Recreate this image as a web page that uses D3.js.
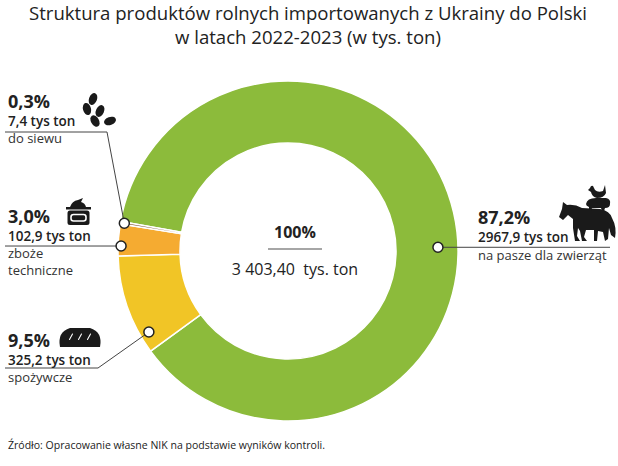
<!DOCTYPE html>
<html>
<head>
<meta charset="utf-8">
<script src="https://cdn.jsdelivr.net/npm/d3@7"></script>
<style>
  body { margin: 0; background: #fff; }
  svg { display: block; font-family: "Open Sans", sans-serif; }
</style>
</head>
<body>
<script>
// data
const categories = ["na pasze dla zwierząt", "spożywcze", "zboże techniczne", "do siewu"];
const subLabels = [["na pasze dla zwierząt"], ["spożywcze"], ["zboże", "techniczne"], ["do siewu"]];
const values = [2967.9, 325.2, 102.9, 7.4];
const percentLabels = ["87,2%", "9,5%", "3,0%", "0,3%"];
const amountLabels = ["2967,9 tys ton", "325,2 tys ton", "102,9 tys ton", "7,4 tys ton"];
const colors = ["#8cbb3b", "#f1c526", "#f5ab31", "#7a5232"];
const totalLabel = "3 403,40  tys. ton";
const titleLines = ["Struktura produktów rolnych importowanych z Ukrainy do Polski", "w latach 2022-2023 (w tys. ton)"];
const sourceText = "Źródło: Opracowanie własne NIK na podstawie wyników kontroli.";

const width = 618, height = 466;
const cx = 288, cy = 251, outerR = 170, innerR = 108;

// where the markers sit in each slice (fraction of slice angle, radius)
const markerPos = [[0.537, 150], [0.17, 161], [0.31, 167], [0.5, 166]];
// label blocks: x, baseline of percent, line y, line end x, elbow
const labelPos = [
    {x: 478, y: 224, lineY: null, lineEnd: 610, elbow: null},
    {x: 8, y: 347, lineY: 368, lineEnd: 5, elbow: [98, 368]},
    {x: 8, y: 223, lineY: null, lineEnd: 5, elbow: null},
    {x: 8, y: 108, lineY: 132, lineEnd: 5, elbow: [107, 132]}
];

const svg = d3.select("body")
    .append("svg")
    .attr("width", width)
    .attr("height", height);

svg.selectAll("text.title")
    .data(titleLines)
    .join("text")
    .attr("class", "title")
    .attr("x", 308)
    .attr("y", (d, i) => 20 + i * 24)
    .attr("text-anchor", "middle")
    .attr("font-size", 19)
    .attr("fill", "#222")
    .attr("textLength", (d, i) => i === 0 ? 558 : 266)
    .attr("lengthAdjust", "spacingAndGlyphs")
    .text(d => d);

const pie = d3.pie()
    .sort(null)
    .value(d => d)
    .startAngle(280 * Math.PI / 180)
    .endAngle(640 * Math.PI / 180);

const arc = d3.arc()
    .innerRadius(innerR)
    .outerRadius(outerR);

const arcs = pie(values);

const donut = svg.append("g")
    .attr("transform", `translate(${cx},${cy})`);

donut.selectAll("path")
    .data(arcs)
    .join("path")
    .attr("d", arc)
    .attr("fill", (d, i) => colors[i])
    .attr("stroke", "#fff")
    .attr("stroke-width", 1.5);

// center text
svg.append("text")
    .attr("x", 295)
    .attr("y", 238)
    .attr("text-anchor", "middle")
    .attr("font-size", 16)
    .attr("font-weight", 700)
    .attr("fill", "#222")
    .text("100%");

svg.append("line")
    .attr("x1", 268).attr("x2", 322)
    .attr("y1", 249).attr("y2", 249)
    .attr("stroke", "#888")
    .attr("stroke-width", 1.5);

svg.append("text")
    .attr("x", 295)
    .attr("y", 275)
    .attr("text-anchor", "middle")
    .attr("font-size", 16)
    .attr("fill", "#222")
    .style("white-space", "pre")
    .text(totalLabel);

// markers and leader lines
const markers = arcs.map((d, i) => {
    const a = d.startAngle + markerPos[i][0] * (d.endAngle - d.startAngle);
    const r = markerPos[i][1];
    return [cx + r * Math.sin(a), cy - r * Math.cos(a)];
});

const leaders = svg.append("g")
    .attr("fill", "none")
    .attr("stroke", "#444")
    .attr("stroke-width", 1);

markers.forEach((m, i) => {
    const lp = labelPos[i];
    const pts = [m];
    if (lp.elbow) pts.push(lp.elbow);
    pts.push([lp.lineEnd, lp.elbow ? lp.elbow[1] : m[1]]);
    leaders.append("path").attr("d", d3.line()(pts));
});

svg.append("g")
    .selectAll("circle")
    .data(markers)
    .join("circle")
    .attr("cx", d => d[0])
    .attr("cy", d => d[1])
    .attr("r", 5)
    .attr("fill", "#fff")
    .attr("stroke", "#222")
    .attr("stroke-width", 1.5);

// labels
labelPos.forEach((lp, i) => {
    const g = svg.append("g").attr("fill", "#222");
    g.append("text")
        .attr("x", lp.x).attr("y", lp.y)
        .attr("font-size", 18)
        .attr("font-weight", 700)
        .text(percentLabels[i]);
    g.append("text")
        .attr("x", lp.x).attr("y", lp.y + 18)
        .attr("font-size", 13.5)
        .attr("font-weight", 600)
        .text(amountLabels[i]);
    subLabels[i].forEach((s, j) => {
        g.append("text")
            .attr("x", lp.x).attr("y", lp.y + 35 + j * 17 + (i === 0 ? 1 : 0))
            .attr("font-size", 13)
            .attr("fill", "#333")
            .text(s);
    });
});

// icons
const icons = svg.append("g").attr("fill", "#1a1a1a");

// seeds
const seeds = [[93, 99, 20], [87, 109, -15], [100, 111, 25], [95, 121, -30], [110, 121, 70]];
seeds.forEach(s => {
    icons.append("ellipse")
        .attr("rx", 4).attr("ry", 6.2)
        .attr("transform", `translate(${s[0]},${s[1]}) rotate(${s[2]})`);
});

// pot
icons.append("path")
    .attr("d", "M70,207 Q72,201 78,200 L83,198 L81,202 Q85,203 86,207 Z");
icons.append("rect").attr("x", 66).attr("y", 207).attr("width", 25).attr("height", 2.5);
icons.append("rect").attr("x", 67.5).attr("y", 210.5).attr("width", 22).attr("height", 14.5).attr("rx", 2.5);
icons.append("rect").attr("x", 71).attr("y", 214.5).attr("width", 15).attr("height", 6.5).attr("rx", 2.5)
    .attr("fill", "none").attr("stroke", "#fff").attr("stroke-width", 1.6);

// bread
icons.append("path")
    .attr("d", "M60,347 L100,347 Q103,332 90,328 L70,328 Q57,332 60,347 Z");
[[71, 337], [80, 337], [89, 337]].forEach(p => {
    icons.append("line")
        .attr("x1", p[0] - 1.5).attr("y1", p[1] + 2.5)
        .attr("x2", p[0] + 1.5).attr("y2", p[1] - 3)
        .attr("stroke", "#fff").attr("stroke-width", 1.1).attr("stroke-linecap", "round");
});

// animals
const farm = icons.append("g").attr("transform", "translate(540,175)");
farm.append("path")
    .attr("d", "M23,27 L27,30 Q35,29 42,33 L60,34 Q70,36 72,43 Q77,52 75,63 L71,60 L69,53 L68,64 L65,66 L63,57 L58,56 L57,66 L54,66 L54,55 L46,55 L44,62 L47,66 L42,66 L40,56 L38,53 L37,61 L40,66 L35,66 L33,53 Q33,47 33,44 L28,40 L23,45 L19,42 L22,34 Z");
farm.append("path")
    .attr("d", "M46,29 Q47,23 56,23 L66,23 Q71,24 70,29 Q70,33 65,33 L64,36 L62,36 L61,33 L52,33 L51,36 L49,36 L49,32 Q46,31 46,29 Z");
farm.append("path")
    .attr("d", "M50,13 Q51,10 53,11 L55,15 Q58,18 63,16 L65,10 L66,18 Q64,23 57,23 Q52,22 51,17 L48,15 Z");

// source
svg.append("text")
    .attr("x", 8)
    .attr("y", 449)
    .attr("font-size", 11)
    .attr("fill", "#222")
    .attr("textLength", 317)
    .attr("lengthAdjust", "spacingAndGlyphs")
    .text(sourceText);
</script>
</body>
</html>
